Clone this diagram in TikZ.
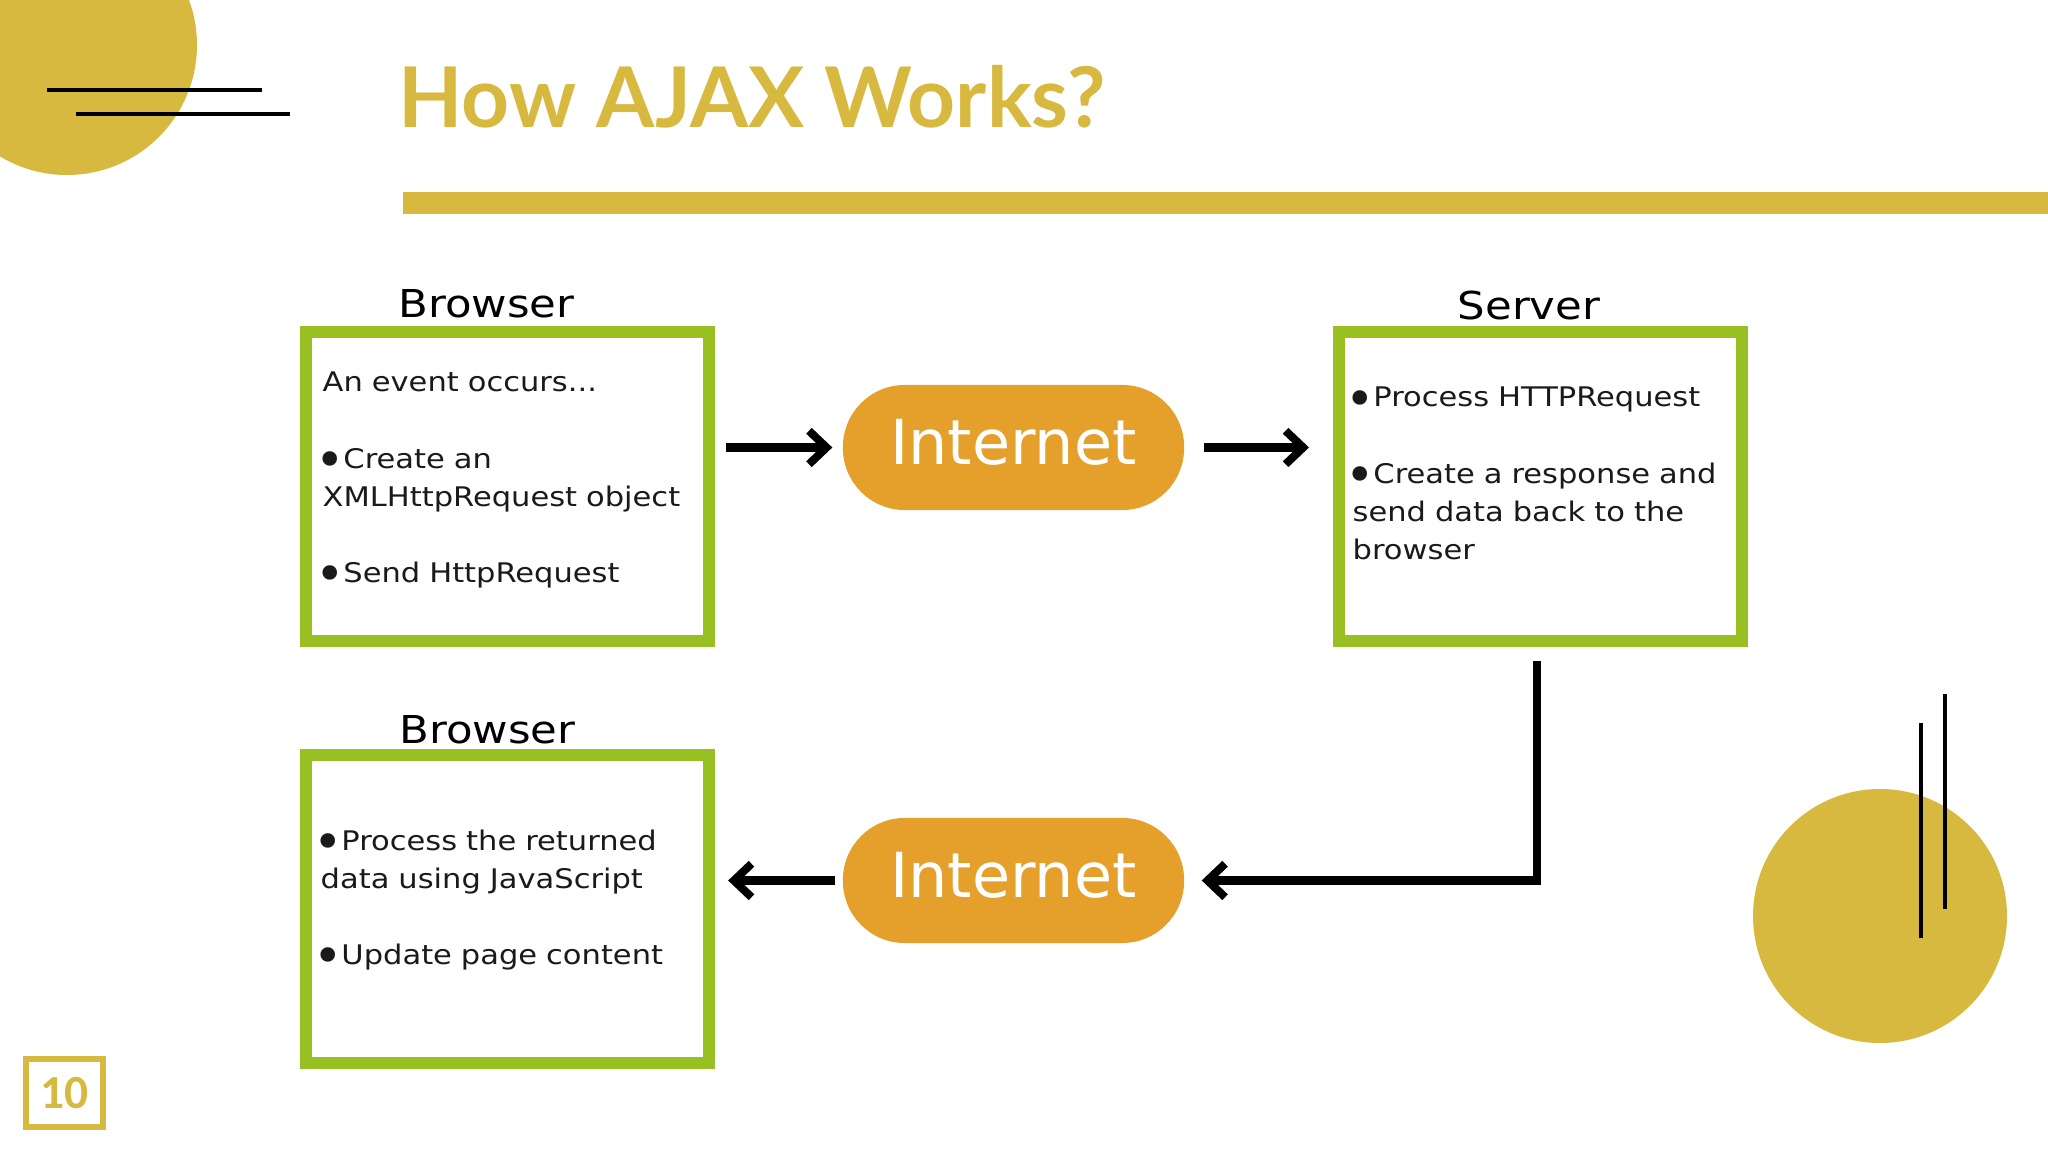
\documentclass[tikz,border=0pt]{standalone}
\usepackage{fontspec}
\usetikzlibrary{arrows.meta}
\newfontfamily\boxfont[FakeStretch=1.13]{DejaVu Sans}
\newfontfamily\pillfont{DejaVu Sans}
\newfontfamily\titlefont{Lato}
\newfontfamily\numfont{Carlito}
\definecolor{gold}{HTML}{D8B940}
\definecolor{lgreen}{HTML}{99C022}
\definecolor{pillorange}{HTML}{E5A02B}
\definecolor{ink}{HTML}{1A1A1A}
\newcommand{\bul}{\makebox[5.9pt][l]{\hspace{-2.0pt}\raisebox{-2.7pt}{\pillfont\fontsize{14.2pt}{10pt}\selectfont •}}}
\begin{document}
\begin{tikzpicture}[x=0.01cm,y=-0.01cm,
  panel/.style={draw=lgreen, line width=3.41pt, fill=white, minimum width=4.03cm, minimum height=3.09cm, inner sep=0pt},
  bodytext/.style={anchor=base west, inner sep=0pt, text width=4.3cm, align=left, font=\boxfont\fontsize{7.68pt}{10.81pt}\selectfont, text=ink},
  boxlabel/.style={anchor=base, inner sep=0pt, font=\boxfont\fontsize{10.93pt}{13pt}\selectfont, text=black},
  pill/.style={fill=pillorange, rounded corners=17.6pt, minimum width=3.41cm, minimum height=1.25cm, inner sep=0pt, text=white, font=\pillfont\fontsize{17.64pt}{20pt}\selectfont, text height=9.4pt, text depth=0pt},
  arr/.style={line width=2.28pt, -{Straight Barb[length=5pt,width=9.5pt]}},
  deco/.style={line width=1.2pt, draw=black}]
\useasboundingbox (0,0) rectangle (2048,1152);
\fill[white] (0,0) rectangle (2048,1152);
% decorations
\fill[gold] (67,45) circle (130);
\draw[deco] (47,90) -- (262,90);
\draw[deco] (76,114) -- (290,114);
\fill[gold] (403,192) rectangle (2048,214);
\fill[gold] (1880,916) circle (127);
\draw[deco] (1921,723) -- (1921,938);
\draw[deco, line width=1pt] (1945,694) -- (1945,909);
% title
\node[anchor=base west, inner sep=0pt, font=\titlefont\bfseries\fontsize{23.8pt}{28pt}\selectfont, text=gold] (title) at (398,128) {How AJAX Works?};
% boxes
\node[panel] (b1) at (507.5,486.5) {};
\node[panel] (srv) at (1540.5,486.5) {};
\node[panel, minimum height=3.08cm] (b3) at (507.5,909) {};
\node[boxlabel] (l1) at (486.5,318) {Browser};
\node[boxlabel] (l2) at (1529,320) {Server};
\node[boxlabel] (l3) at (487.5,743) {Browser};
\node[bodytext] (t1) at (322,392) {An event occurs...\\[10.81pt]\bul Create an\\XMLHttpRequest object\\[10.81pt]\bul Send HttpRequest};
\node[bodytext] (t2) at (1352,407) {\bul Process HTTPRequest\\[10.81pt]\bul Create a response and\\send data back to the\\browser};
\node[bodytext] (t3) at (320,850) {\bul Process the returned\\data using JavaScript\\[10.81pt]\bul Update page content};
% internet pills
\node[pill] (i1) at (1013.5,447.5) {Internet};
\node[pill] (i2) at (1013.5,880.5) {Internet};
% connectors
\draw[arr, shorten <=3.1pt, shorten >=2.8pt] (b1.east |- i1.west) -- (i1.west);
\draw[arr, shorten <=5.4pt, shorten >=6.8pt] (i1.east) -- (i1.east -| srv.west);
\draw[arr, shorten >=4.8pt] ([shift={(-4,14)}]srv.south) |- (i2.east);
\draw[arr, shorten <=2pt, shorten >=3.7pt] (i2.west) -- (i2.west -| b3.east);
% page number
\node[draw=gold, line width=1.7pt, minimum width=0.77cm, minimum height=0.68cm, inner sep=0pt, text=gold, font=\numfont\bfseries\fontsize{13.5pt}{14pt}\selectfont] (pg) at (64.5,1093) {10};
\end{tikzpicture}
\end{document}
